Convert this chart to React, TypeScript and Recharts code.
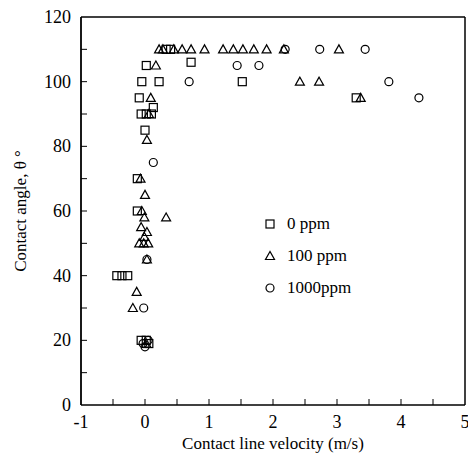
import { ScatterChart, Scatter, XAxis, YAxis, ReferenceLine, Legend } from 'recharts'

const FONT = '"Liberation Serif", "Times New Roman", serif'

// 0 ppm (squares)
const ppm0 = [
  { v: -0.44, a: 40 }, { v: -0.36, a: 40 }, { v: -0.27, a: 40 },
  { v: -0.12, a: 70 }, { v: -0.12, a: 60 },
  { v: 0.0, a: 85 },
  { v: -0.06, a: 90 }, { v: 0.02, a: 90 }, { v: 0.1, a: 90 },
  { v: 0.13, a: 92 }, { v: -0.09, a: 95 },
  { v: -0.05, a: 100 }, { v: 0.22, a: 100 }, { v: 0.02, a: 105 },
  { v: 0.33, a: 110 }, { v: 0.4, a: 110 },
  { v: 0.72, a: 106 }, { v: 1.52, a: 100 }, { v: 3.3, a: 95 },
  { v: -0.06, a: 20 }, { v: 0.02, a: 20 }, { v: 0.06, a: 19 },
]

// 100 ppm (triangles)
const ppm100 = [
  { v: -0.19, a: 30 }, { v: -0.13, a: 35 }, { v: 0.03, a: 45 },
  { v: -0.09, a: 50 }, { v: -0.02, a: 50 }, { v: 0.05, a: 50 },
  { v: -0.01, a: 52 }, { v: 0.03, a: 53.5 }, { v: -0.06, a: 55 },
  { v: -0.01, a: 58 }, { v: 0.33, a: 58 }, { v: -0.05, a: 60 },
  { v: 0.0, a: 65 }, { v: -0.07, a: 70 }, { v: 0.03, a: 82 },
  { v: 0.06, a: 90 }, { v: 0.09, a: 95 }, { v: 0.17, a: 105 },
  { v: 0.22, a: 110 }, { v: 0.28, a: 110 }, { v: 0.45, a: 110 },
  { v: 0.58, a: 110 }, { v: 0.72, a: 110 }, { v: 0.93, a: 110 },
  { v: 1.22, a: 110 }, { v: 1.38, a: 110 }, { v: 1.53, a: 110 },
  { v: 1.7, a: 110 }, { v: 1.9, a: 110 }, { v: 2.17, a: 110 },
  { v: 3.03, a: 110 },
  { v: 2.42, a: 100 }, { v: 2.72, a: 100 }, { v: 3.37, a: 95 },
  { v: 0.02, a: 19 },
]

// 1000 ppm (circles)
const ppm1000 = [
  { v: -0.02, a: 30 }, { v: 0.03, a: 45 }, { v: 0.13, a: 75 },
  { v: 0.69, a: 100 }, { v: 1.44, a: 105 }, { v: 1.78, a: 105 },
  { v: 2.19, a: 110 }, { v: 2.73, a: 110 }, { v: 3.44, a: 110 },
  { v: 3.81, a: 100 }, { v: 4.28, a: 95 },
  { v: -0.03, a: 19 }, { v: 0.0, a: 18 }, { v: 0.05, a: 20 },
]

const xTicks = [-1, -0.5, 0, 0.5, 1, 1.5, 2, 2.5, 3, 3.5, 4, 4.5, 5]
const yTicks = [0, 10, 20, 30, 40, 50, 60, 70, 80, 90, 100, 110, 120]

const square = (p: any) => (
  <rect x={p.cx - 4} y={p.cy - 4} width={8} height={8} fill="none" stroke="#000" strokeWidth={1.2} />
)
const triangle = (p: any) => (
  <polygon
    points={`${p.cx},${p.cy - 4.5} ${p.cx - 4.5},${p.cy + 3.5} ${p.cx + 4.5},${p.cy + 3.5}`}
    fill="none"
    stroke="#000"
    strokeWidth={1.2}
  />
)
const circle = (p: any) => <circle cx={p.cx} cy={p.cy} r={4} fill="none" stroke="#000" strokeWidth={1.2} />

function YTick({ x, y, payload }: any) {
  const v = payload.value
  const ax = x + 10
  return (
    <g>
      {v > 0 && v < 120 && <line x1={ax} x2={ax + 6} y1={y} y2={y} stroke="#000" />}
      {v % 20 === 0 && (
        <text x={x} y={y} dy={6} textAnchor="end" fontSize={18} fontFamily={FONT} fill="#000">
          {v}
        </text>
      )}
    </g>
  )
}

function XTick({ x, y, payload }: any) {
  const v = payload.value
  return (
    <g>
      {v > -1 && v < 5 && <line x1={x} x2={x} y1={y} y2={y - 6} stroke="#000" />}
      {Number.isInteger(v) && (
        <text x={x} y={y} dy={23} textAnchor="middle" fontSize={18} fontFamily={FONT} fill="#000">
          {v}
        </text>
      )}
    </g>
  )
}

const legendItems = [
  { name: '0 ppm', icon: <rect x={3} y={3} width={8} height={8} fill="none" stroke="#000" strokeWidth={1.2} /> },
  { name: '100 ppm', icon: <polygon points="7,2.5 2.5,10.5 11.5,10.5" fill="none" stroke="#000" strokeWidth={1.2} /> },
  { name: '1000ppm', icon: <circle cx={7} cy={7} r={4} fill="none" stroke="#000" strokeWidth={1.2} /> },
]

function LegendBox() {
  return (
    <div style={{ fontFamily: FONT, fontSize: 17, color: '#000' }}>
      {legendItems.map((it) => (
        <div key={it.name} style={{ display: 'flex', alignItems: 'center', height: 32 }}>
          <svg width={14} height={14} style={{ marginRight: 10 }}>
            {it.icon}
          </svg>
          <span>{it.name}</span>
        </div>
      ))}
    </div>
  )
}

export default function App() {
  return (
    <div style={{ position: 'absolute', left: 0, top: 0, background: '#fff' }}>
      <ScatterChart width={468} height={457} margin={{ top: 17, right: 3, bottom: 0, left: 0 }}>
        <XAxis
          type="number"
          dataKey="v"
          domain={[-1, 5]}
          ticks={xTicks}
          interval={0}
          height={52}
          tickSize={0}
          tickMargin={0}
          tick={<XTick />}
          axisLine={{ stroke: '#000', strokeWidth: 1.5 }}
          allowDataOverflow
          label={{
            value: 'Contact line velocity (m/s)',
            position: 'insideBottom',
            offset: 8,
            style: { fontFamily: FONT, fontSize: 17, fill: '#000' },
          }}
        />
        <YAxis
          type="number"
          dataKey="a"
          domain={[0, 120]}
          ticks={yTicks}
          interval={0}
          width={81}
          tickSize={0}
          tickMargin={10}
          tick={<YTick />}
          axisLine={{ stroke: '#000', strokeWidth: 1.8 }}
          allowDataOverflow
          label={{
            value: 'Contact angle, θ °',
            angle: -90,
            position: 'insideLeft',
            offset: 0,
            dx: 20,
            style: { fontFamily: FONT, fontSize: 17, fill: '#000', textAnchor: 'middle' },
          }}
        />
        <ReferenceLine y={120} stroke="#000" strokeWidth={1.5} />
        <ReferenceLine x={5} stroke="#000" strokeWidth={1.5} />
        <Legend
          layout="vertical"
          align="center"
          verticalAlign="middle"
          content={() => <LegendBox />}
          wrapperStyle={{ position: 'absolute', left: 263, top: 208, width: 'auto', height: 'auto' }}
        />
        <Scatter name="0 ppm" data={ppm0} shape={square} isAnimationActive={false} />
        <Scatter name="100 ppm" data={ppm100} shape={triangle} isAnimationActive={false} />
        <Scatter name="1000ppm" data={ppm1000} shape={circle} isAnimationActive={false} />
      </ScatterChart>
    </div>
  )
}
